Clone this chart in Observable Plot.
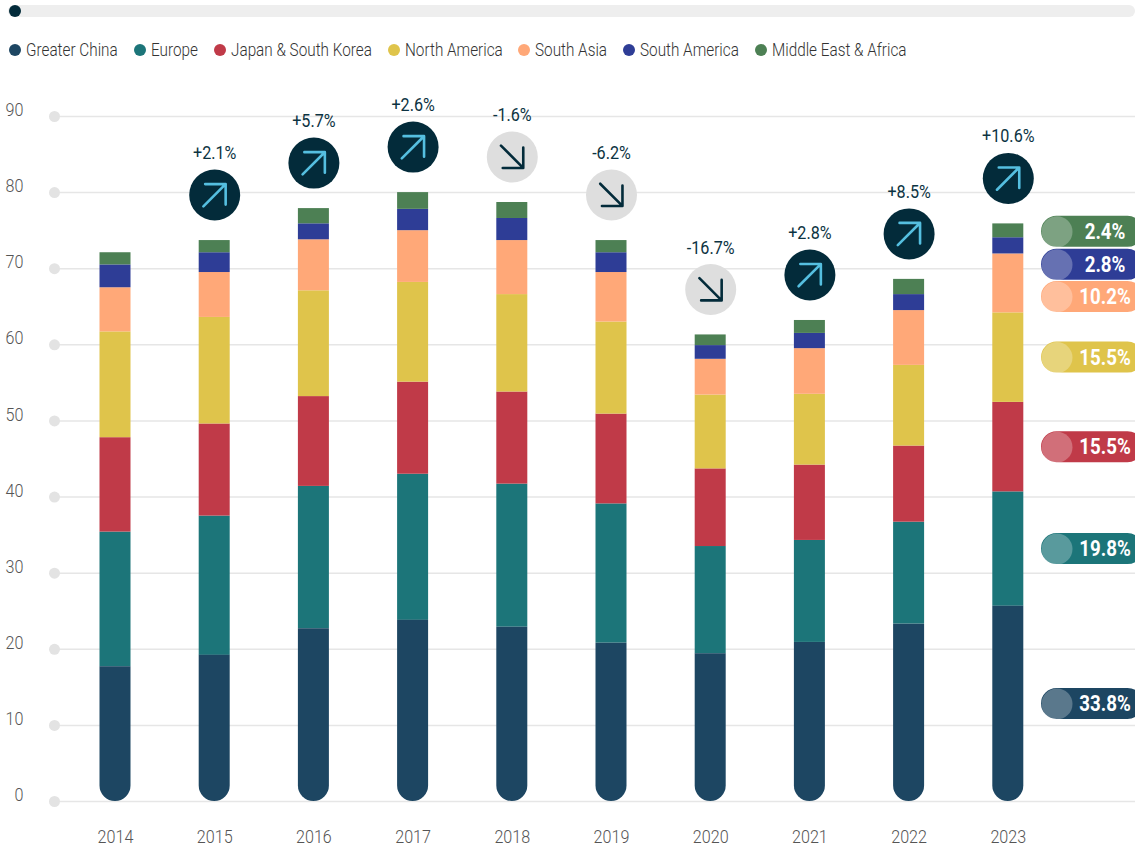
<!DOCTYPE html>
<html>
<head>
<meta charset="utf-8">
<script src="https://cdn.jsdelivr.net/npm/d3@7"></script>
<script src="https://cdn.jsdelivr.net/npm/@observablehq/plot@0.6"></script>
<style>
  html, body { margin: 0; background: #fff; overflow: hidden; }
  body { width: 1135px; height: 846px; font-family: Roboto, sans-serif; }
  #track { position: absolute; left: 8px; top: 5px; width: 1127px; height: 12px; background: #eeeeee; border-radius: 6px; }
  #knob { position: absolute; left: 1px; top: 0; width: 12px; height: 12px; background: #032b3a; border-radius: 50%; }
  #legend { position: absolute; left: 9px; top: 40px; height: 20px; display: flex; gap: 16px; font-size: 18px; font-weight: 300; color: #333; line-height: 20px; }
  #legend span.item { display: flex; align-items: center; gap: 5px; white-space: nowrap; }
  #legend i { display: block; width: 12px; height: 12px; border-radius: 50%; }
  #legend b { display: block; font-weight: 300; transform-origin: 0 50%; }
  #chart { position: absolute; left: 0; top: 70px; }
  svg text { font-family: Roboto, sans-serif; }
</style>
</head>
<body>
<div id="track"><div id="knob"></div></div>
<div id="legend"></div>
<div id="chart"></div>
<script>
const years = [2014, 2015, 2016, 2017, 2018, 2019, 2020, 2021, 2022, 2023];
const regions = ["Greater China", "Europe", "Japan & South Korea", "North America", "South Asia", "South America", "Middle East & Africa"];
const regionColors = ["#1d4662", "#1c7579", "#c03a48", "#dfc44b", "#ffa878", "#2e3d96", "#4d8054"];

const greaterChina = [17.7, 19.2, 22.7, 23.8, 22.9, 20.8, 19.4, 20.9, 23.3, 25.65];
const europe = [17.7, 18.3, 18.7, 19.2, 18.8, 18.3, 14.1, 13.4, 13.4, 15.03];
const japanKorea = [12.4, 12.1, 11.8, 12.1, 12.1, 11.8, 10.2, 9.9, 10.0, 11.76];
const northAmerica = [13.9, 14.0, 13.9, 13.1, 12.8, 12.1, 9.7, 9.3, 10.6, 11.76];
const southAsia = [5.8, 5.9, 6.7, 6.8, 7.1, 6.5, 4.7, 6.0, 7.2, 7.74];
const southAmerica = [3.0, 2.6, 2.1, 2.8, 2.9, 2.6, 1.8, 2.0, 2.1, 2.13];
const middleEastAfrica = [1.6, 1.6, 2.0, 2.2, 2.1, 1.6, 1.4, 1.7, 2.0, 1.82];
const regionSeries = [greaterChina, europe, japanKorea, northAmerica, southAsia, southAmerica, middleEastAfrica];

const growthLabels = [null, "+2.1%", "+5.7%", "+2.6%", "-1.6%", "-6.2%", "-16.7%", "+2.8%", "+8.5%", "+10.6%"];
const shareLabels = ["33.8%", "19.8%", "15.5%", "15.5%", "10.2%", "2.8%", "2.4%"];
const yTicks = [0, 10, 20, 30, 40, 50, 60, 70, 80, 90];

const condense = 0.85; // horizontal squeeze that gives Roboto a condensed look

// Legend row above the plot
d3.select("#legend").selectAll("span.item").data(regions).join("span")
  .attr("class", "item")
  .each(function (name, i) {
    const s = d3.select(this);
    s.append("i").style("background", regionColors[i]);
    s.append("span").append("b").text(name);
  });
d3.selectAll("#legend b").each(function () {
  const w = this.getBoundingClientRect().width;
  this.style.transform = `scaleX(${condense})`;
  this.parentNode.style.width = `${w * condense}px`;
});

// One stacked segment per region and year
const segments = [];
years.forEach((year, yi) => {
  let base = 0;
  regionSeries.forEach((series, ri) => {
    segments.push({year, region: regions[ri], color: regionColors[ri], ri, y1: base, y2: base + series[yi]});
    base += series[yi];
  });
});
const totals = years.map((year, yi) => ({year, total: d3.sum(regionSeries, (s) => s[yi]), label: growthLabels[yi]}));
const badges = totals.filter((d) => d.label);
const rising = badges.filter((d) => d.label[0] === "+");
const falling = badges.filter((d) => d.label[0] === "-");

// Share pills sit beside the segment they describe; the thin top ones are nudged apart
const pillNudge = [0, 0, 0, 0, 13.5, 19, 1];
const last = segments.filter((d) => d.year === 2023);
const pills = last.map((d, i) => ({...d, label: shareLabels[i], mid: (d.y1 + d.y2) / 2, nudge: pillNudge[i]}));

const px = 99.2; // pixels per year on the x axis
const barHalf = 15.5 / px;
const at = (pixel) => 2014 + (pixel - 115) / px;

// Corner arrow drawn around the origin, pointing up before rotation
const cornerArrow = {
  draw(ctx) {
    ctx.moveTo(0, 16);
    ctx.lineTo(0, -15);
    ctx.moveTo(-14.5, -1);
    ctx.lineTo(0, -15.5);
    ctx.lineTo(14.5, -1);
  }
};

const chart = Plot.plot({
  width: 1135,
  height: 776,
  marginTop: 46,
  marginBottom: 45,
  marginLeft: 0,
  marginRight: 0,
  x: {domain: [at(0), at(1135)], range: [0, 1135]},
  y: {domain: [0, 90]},
  marks: [
    Plot.ruleY(yTicks, {x1: at(54), x2: at(1135), stroke: "#e6e6e6", strokeWidth: 1.5}),
    Plot.dot(yTicks, {x: () => at(54), y: (d) => d, r: 5.5, fill: "#e3e3e3"}),
    Plot.axisY(yTicks, {anchor: "left", tickSize: 0, tickPadding: 0, dx: 23, dy: -6.5, fontSize: 19, fontWeight: 300, color: "#555", label: null}),
    Plot.axisX(years, {anchor: "bottom", tickSize: 0, tickPadding: 28, fontSize: 19, fontWeight: 300, color: "#555", tickFormat: "d", label: null}),
    Plot.rectY(segments.filter((d) => d.ri > 0), {x1: (d) => d.year - barHalf, x2: (d) => d.year + barHalf, y1: "y1", y2: "y2", fill: "color"}),
    Plot.rectY(segments.filter((d) => d.ri === 0), {x1: (d) => d.year - barHalf, x2: (d) => d.year + barHalf, y1: "y1", y2: "y2", fill: "color", rx1y1: 15.5, rx2y1: 15.5}),
    // Year-on-year badges
    Plot.dot(rising, {x: "year", y: "total", dy: -45.5, r: 25.5, fill: "#032b3a"}),
    Plot.dot(falling, {x: "year", y: "total", dy: -45.5, r: 25.5, fill: "#dedede"}),
    Plot.vector(rising, {x: "year", y: "total", dy: -45.5, rotate: 45, shape: cornerArrow, anchor: "start", stroke: "#55bfe0", strokeWidth: 2.6}),
    Plot.vector(falling, {x: "year", y: "total", dy: -45.5, rotate: 135, shape: cornerArrow, anchor: "start", stroke: "#032b3a", strokeWidth: 2.6}),
    Plot.text(badges, {x: "year", y: "total", dy: -87.5, text: "label", fontSize: 19, fill: "#0c3342"}),
    // Share pills for the latest year
    ...pills.map((d) => Plot.rect([d], {x1: at(1041), x2: at(1143), y1: "mid", y2: "mid", insetTop: -15.5 + d.nudge, insetBottom: -15.5 - d.nudge, fill: "color", r: 15.5})),
    ...pills.map((d) => Plot.dot([d], {x: () => at(1056.5), y: "mid", dy: d.nudge, r: 15.5, fill: "#fff", fillOpacity: 0.27})),
    ...pills.map((d) => Plot.text([d], {x: () => at(1104.5), y: "mid", dy: d.nudge, text: "label", fill: "#fff", fontSize: 22, fontWeight: 700}))
  ]
});
document.getElementById("chart").append(chart);

// Squeeze every chart label horizontally about its anchor
d3.select(chart).selectAll("text").each(function () {
  const t = this.getAttribute("transform") || "";
  this.setAttribute("transform", `${t} scale(${condense},1)`);
});
</script>
</body>
</html>
